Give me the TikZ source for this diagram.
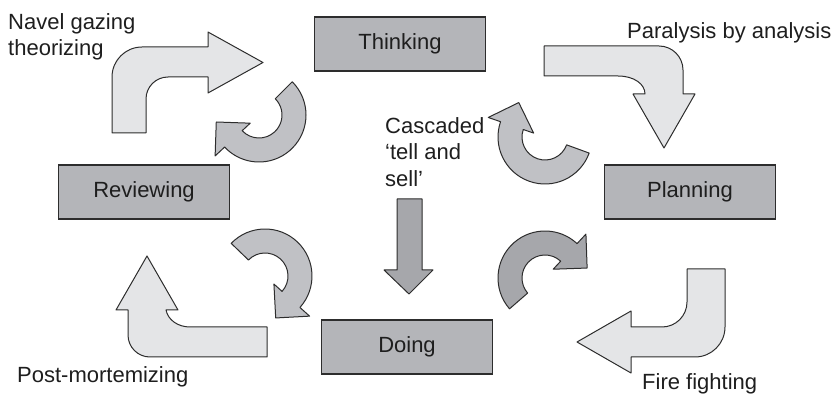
\documentclass[tikz,border=0pt]{standalone}
\usepackage{fontspec}
\setmainfont{Liberation Sans}
\usepackage{tikz}
\usepackage{xcolor}
\definecolor{boxgray}{RGB}{180,181,185}
\definecolor{palegray}{RGB}{228,229,231}
\definecolor{turngray}{RGB}{192,193,197}
\definecolor{darkturn}{RGB}{166,167,171}
\definecolor{edgegray}{RGB}{45,45,45}
\definecolor{textgray}{RGB}{30,30,30}
\tikzstyle{stage} = [draw=edgegray, line width=1.2pt, fill=boxgray, minimum width=171pt, minimum height=54pt, inner sep=0pt, text=textgray, font=\fontsize{22}{26.5}\selectfont]
\tikzstyle{note} = [inner sep=0pt, align=left, text=textgray, font=\fontsize{22}{26.5}\selectfont]
\tikzstyle{bigarrow} = [draw=edgegray, line width=1pt, fill=palegray, line join=round]
\tikzstyle{turnarrow} = [draw=edgegray, line width=1pt, line join=round]
% round arrow: centre, start angle, end angle, fill (always clockwise)
\newcommand{\curlarrow}[4]{%
  \draw[turnarrow, fill=#4, shift={#1}] (#2:47) arc[start angle=#2, end angle=#3, radius=47]
    -- (#3:60) -- ({#3-33.7}:43.3) -- (#3:12) -- (#3:23)
    arc[start angle=#3, end angle=#2, radius=23] -- cycle;}

\begin{document}
\begin{tikzpicture}[x=1pt, y=1pt]
\useasboundingbox (0,0) rectangle (839,394);

% Stages
\node[stage] (thinking) at (400,350) {Thinking};
\node[stage] (planning) at (690,202) {Planning};
\node[stage] (doing) at (407,47) {Doing};
\node[stage] (reviewing) at (144,202) {Reviewing};

% Bent arrows round the outside
\draw[bigarrow] (112,261) -- (112,317) arc[start angle=180, end angle=90, radius=30]
  -- (208,347) -- (208,362) -- (263,331.5) -- (208,301) -- (208,317) -- (168,317)
  arc[start angle=90, end angle=180, radius=22] -- (146,261) -- cycle; % navel gazing
\draw[bigarrow] (544,348) -- (659,348) arc[start angle=90, end angle=0, radius=24]
  -- (683,300) -- (695,300) -- (664,246) -- (633,300) -- (645,300)
  .. controls (645,310) and (634,318) .. (618,318) -- (544,318) -- cycle; % paralysis
\draw[bigarrow] (687,125) -- (725,125) -- (725,67) arc[start angle=0, end angle=-90, radius=30]
  -- (631,37) -- (631,21) -- (577,52) -- (631,83) -- (631,67) -- (662,67)
  arc[start angle=-90, end angle=0, radius=25] -- cycle; % fire fighting
\draw[bigarrow] (267,67) -- (190,67) .. controls (178,67) and (168,74) .. (166,84)
  -- (178,84) -- (147,138) -- (116,84) -- (128,84) -- (128,59)
  arc[start angle=180, end angle=270, radius=22] -- (267,37) -- cycle; % post-mortem

% Round arrows on the inside
\curlarrow{(259,279)}{45}{-137}{turngray}
\curlarrow{(545,257)}{-20}{-199}{turngray}
\curlarrow{(545,116)}{221}{47}{darkturn}
\curlarrow{(265,118)}{136}{-42}{turngray}

% Straight arrow down the middle
\draw[turnarrow, fill=darkturn] (397,195) -- (422,195) -- (422,124) -- (433,124)
  -- (409,100) -- (384,124) -- (397,124) -- cycle;

% Labels
\node[note, anchor=north west] (navel) at (8,381) {Navel gazing\\theorizing};
\node[note, anchor=north west] (paralysis) at (627,372) {Paralysis by analysis};
\node[note, anchor=north west] (cascade) at (385,277) {Cascaded\\‘tell and\\sell’};
\node[note, anchor=north west] (postmortem) at (17,28) {Post-mortemizing};
\node[note, anchor=north west] (firefight) at (642,21) {Fire fighting};

\end{tikzpicture}
\end{document}
